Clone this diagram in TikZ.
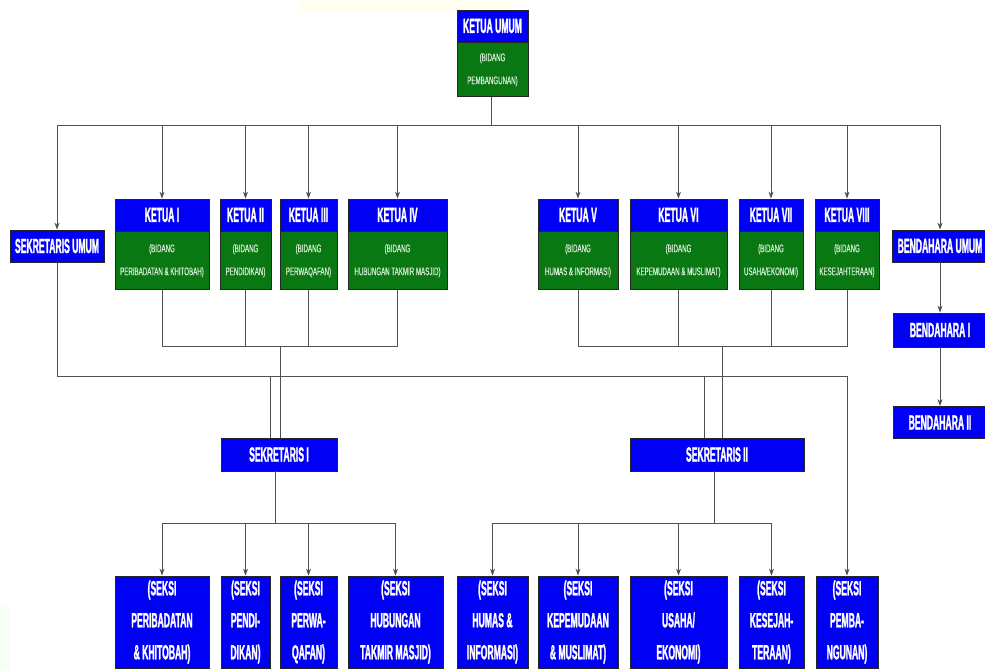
\documentclass[tikz,border=0pt]{standalone}
\usepackage{fontspec}
\newfontfamily\hfont[FakeStretch=0.42,FakeBold=1.2]{Liberation Sans Bold}
\newfontfamily\gfont[FakeStretch=0.56,FakeBold=0.6]{Liberation Sans}
\usetikzlibrary{arrows.meta,calc}
\definecolor{boxblue}{RGB}{0,0,245}
\definecolor{boxgreen}{RGB}{10,120,18}
\definecolor{gtext}{RGB}{212,236,212}
\definecolor{linegray}{RGB}{80,80,80}
\tikzset{
  hdr/.style={fill=boxblue, draw=black!85, line width=0.8pt, text=white, inner sep=0pt, align=center,
    font=\hfont\fontsize{20.5}{32}\selectfont},
  bod/.style={fill=boxgreen, draw=black!85, line width=0.8pt, text=gtext, inner sep=0pt, align=center,
    font=\gfont\fontsize{11}{23}\selectfont},
  conn/.style={draw=linegray, line width=0.9pt},
  arr/.style={conn, -{Stealth[length=7pt,width=5pt]}},
}
\begin{document}
\begin{tikzpicture}[x=1pt,y=-1pt]
\useasboundingbox (0,0) rectangle (985,669);
\fill[white] (0,0) rectangle (985,669);
\fill[yellow!6!white] (300,0) rectangle (513,12);
\fill[green!4!white] (0,607) rectangle (10,669);
\begin{scope}
\clip (0,0) rectangle (985,669);
% top
\node[hdr, minimum width=71pt, minimum height=32pt] (kuh) at (492.5,26) {KETUA UMUM};
\node[bod, minimum width=71pt, minimum height=54pt, anchor=north] (kub) at (kuh.south) {(BIDANG\\PEMBANGUNAN)};
% second row
\node[hdr, minimum width=94pt, minimum height=32pt] (su) at (57,246) {SEKRETARIS UMUM};
\node[hdr, minimum width=94pt, minimum height=32pt] (k1h) at (162,215) {KETUA I};
\node[bod, minimum width=94pt, minimum height=58pt, anchor=north] (k1b) at (k1h.south) {(BIDANG\\PERIBADATAN \& KHITOBAH)};
\node[hdr, minimum width=51pt, minimum height=32pt] (k2h) at (245.5,215) {KETUA II};
\node[bod, minimum width=51pt, minimum height=58pt, anchor=north] (k2b) at (k2h.south) {(BIDANG\\PENDIDIKAN)};
\node[hdr, minimum width=57pt, minimum height=32pt] (k3h) at (308.5,215) {KETUA III};
\node[bod, minimum width=57pt, minimum height=58pt, anchor=north] (k3b) at (k3h.south) {(BIDANG\\PERWAQAFAN)};
\node[hdr, minimum width=99pt, minimum height=32pt] (k4h) at (397.5,215) {KETUA IV};
\node[bod, minimum width=99pt, minimum height=58pt, anchor=north] (k4b) at (k4h.south) {(BIDANG\\HUBUNGAN TAKMIR MASJID)};
\node[hdr, minimum width=80pt, minimum height=32pt] (k5h) at (578,215) {KETUA V};
\node[bod, minimum width=80pt, minimum height=58pt, anchor=north] (k5b) at (k5h.south) {(BIDANG\\HUMAS \& INFORMASI)};
\node[hdr, minimum width=97pt, minimum height=32pt] (k6h) at (678.5,215) {KETUA VI};
\node[bod, minimum width=97pt, minimum height=58pt, anchor=north] (k6b) at (k6h.south) {(BIDANG\\KEPEMUDAAN \& MUSLIMAT)};
\node[hdr, minimum width=64pt, minimum height=32pt] (k7h) at (771,215) {KETUA VII};
\node[bod, minimum width=64pt, minimum height=58pt, anchor=north] (k7b) at (k7h.south) {(BIDANG\\USAHA/EKONOMI)};
\node[hdr, minimum width=64pt, minimum height=32pt] (k8h) at (847,215) {KETUA VIII};
\node[bod, minimum width=64pt, minimum height=58pt, anchor=north] (k8b) at (k8h.south) {(BIDANG\\KESEJAHTERAAN)};
\node[hdr, minimum width=96pt, minimum height=32pt] (bu) at (940,246) {BENDAHARA UMUM};
\node[hdr, minimum width=94pt, minimum height=34pt] (b1) at (940,330) {BENDAHARA I};
\node[hdr, minimum width=94pt, minimum height=32pt] (b2) at (940,422.5) {BENDAHARA II};
% secretaries
\node[hdr, minimum width=116pt, minimum height=33pt] (s1) at (279,454.5) {SEKRETARIS I};
\node[hdr, minimum width=174pt, minimum height=33pt] (s2) at (717,454.5) {SEKRETARIS II};
% bottom row
\node[hdr, minimum width=94pt, minimum height=92pt] (p1) at (162,622) {(SEKSI\\PERIBADATAN\\\& KHITOBAH)};
\node[hdr, minimum width=49pt, minimum height=92pt] (p2) at (245.5,622) {(SEKSI\\PENDI-\\DIKAN)};
\node[hdr, minimum width=57pt, minimum height=92pt] (p3) at (308.5,622) {(SEKSI\\PERWA-\\QAFAN)};
\node[hdr, minimum width=95pt, minimum height=92pt] (p4) at (395.5,622) {(SEKSI\\HUBUNGAN\\TAKMIR MASJID)};
\node[hdr, minimum width=71pt, minimum height=92pt] (p5) at (492.5,622) {(SEKSI\\HUMAS \&\\INFORMASI)};
\node[hdr, minimum width=80pt, minimum height=92pt] (p6) at (578,622) {(SEKSI\\KEPEMUDAAN\\\& MUSLIMAT)};
\node[hdr, minimum width=97pt, minimum height=92pt] (p7) at (678.5,622) {(SEKSI\\USAHA/\\EKONOMI)};
\node[hdr, minimum width=65pt, minimum height=92pt] (p8) at (771.5,622) {(SEKSI\\KESEJAH-\\TERAAN)};
\node[hdr, minimum width=62pt, minimum height=92pt] (p9) at (847,622) {(SEKSI\\PEMBA-\\NGUNAN)};
\end{scope}
% bus coordinates
\coordinate (topbus) at (491,125);
\coordinate (lbus) at (280,346);
\coordinate (rbus) at (722,346);
\coordinate (mainy) at (0,376);
\coordinate (s1bus) at (275,523);
\coordinate (s2bus) at (714,523);
% top distribution
\draw[conn] (kub.south -| topbus) -- (topbus);
\draw[conn] (su.north |- topbus) -- (bu.north |- topbus);
\foreach \n in {su,k1h,k2h,k3h,k4h,k5h,k6h,k7h,k8h,bu}
  \draw[arr] (\n.north |- topbus) -- (\n.north);
\draw[arr] (bu) -- (b1);
\draw[arr] (b1) -- (b2);
% left ketua bus
\draw[conn] (k1b.south) -- (k1b.south |- lbus) -- (k4b.south |- lbus) -- (k4b.south);
\foreach \n in {k2b,k3b} \draw[conn] (\n.south) -- (\n.south |- lbus);
\draw[conn] (lbus) -- (lbus |- s1.north);
% right ketua bus
\draw[conn] (k5b.south) -- (k5b.south |- rbus) -- (k8b.south |- rbus) -- (k8b.south);
\foreach \n in {k6b,k7b} \draw[conn] (\n.south) -- (\n.south |- rbus);
\draw[conn] (rbus) -- (rbus |- s2.north);
% main secretary line
\draw[conn] (su.south) -- (su.south |- mainy) -- (p9.north |- mainy);
\draw[arr] (p9.north |- mainy) -- (p9.north);
\coordinate (m1) at (270,376);
\coordinate (m2) at (704,376);
\draw[conn] (m1) -- (m1 |- s1.north);
\draw[conn] (m2) -- (m2 |- s2.north);
% sekretaris I children
\draw[conn] (s1bus |- s1.south) -- (s1bus);
\draw[conn] (p1.north |- s1bus) -- (p4.north |- s1bus);
\foreach \n in {p1,p2,p3,p4} \draw[arr] (\n.north |- s1bus) -- (\n.north);
% sekretaris II children
\draw[conn] (s2bus |- s2.south) -- (s2bus);
\draw[conn] (p5.north |- s2bus) -- (p8.north |- s2bus);
\foreach \n in {p5,p6,p7,p8} \draw[arr] (\n.north |- s2bus) -- (\n.north);
\end{tikzpicture}
\end{document}
